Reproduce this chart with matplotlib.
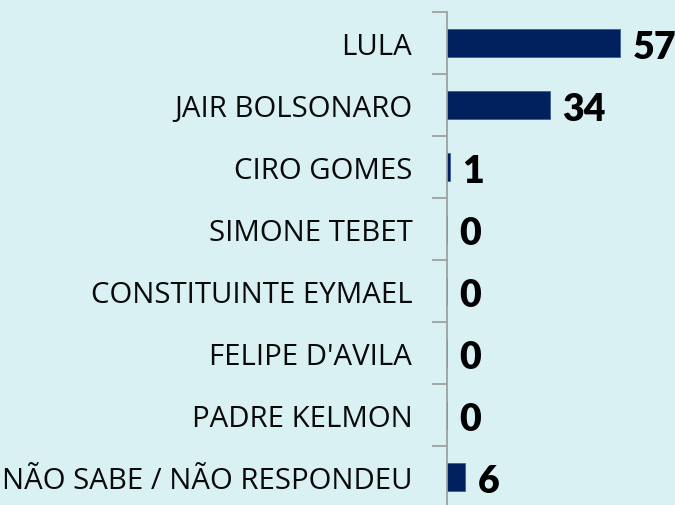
import matplotlib
matplotlib.use("Agg")
import matplotlib.pyplot as plt

# données du graphique
candidatos = ["LULA", "JAIR BOLSONARO", "CIRO GOMES", "SIMONE TEBET",
              "CONSTITUINTE EYMAEL", "FELIPE D'AVILA", "PADRE KELMON",
              "NÃO SABE / NÃO RESPONDEU"]
percentuais = [57, 34, 1, 0, 0, 0, 0, 6]

bg = "#daf1f3"
bar_color = "#01205e"

fig = plt.figure(figsize=(6.75, 5.06), dpi=100, facecolor=bg)
ax = fig.add_axes([447 / 675, -3 / 506, 1 - 447 / 675, 496 / 506])
ax.set_facecolor(bg)

y = list(range(len(candidatos)))
ax.barh(y, percentuais, height=0.45, color=bar_color, edgecolor="#3d5f99", linewidth=0.6)
ax.set_ylim(len(candidatos) - 0.5, -0.5)
ax.set_xlim(0, 228 / 3.04)

for yi, v in zip(y, percentuais):
    ax.text(v + 4.0, yi + 0.07, str(v), va="center", ha="left", fontsize=27,
            fontweight="heavy", family="Lato", color="black")

# ticks entre les catégories
ax.set_yticks([i - 0.5 for i in range(len(candidatos) + 1)], minor=False)
ax.set_yticklabels([])
ax.set_yticks(y, minor=True)
ax.set_yticklabels(candidatos, minor=True, fontsize=21.2, family="Open Sans", color="#0a0a0a")
ax.tick_params(axis="y", which="major", length=11, color="#9a9a9a", width=1.2)
ax.tick_params(axis="y", which="minor", length=0, pad=25)
ax.set_xticks([])

for side in ["top", "right", "bottom"]:
    ax.spines[side].set_visible(False)
ax.spines["left"].set_color("#9a9a9a")
ax.spines["left"].set_linewidth(1.2)

fig.savefig("out.png", dpi=100, facecolor=bg)
